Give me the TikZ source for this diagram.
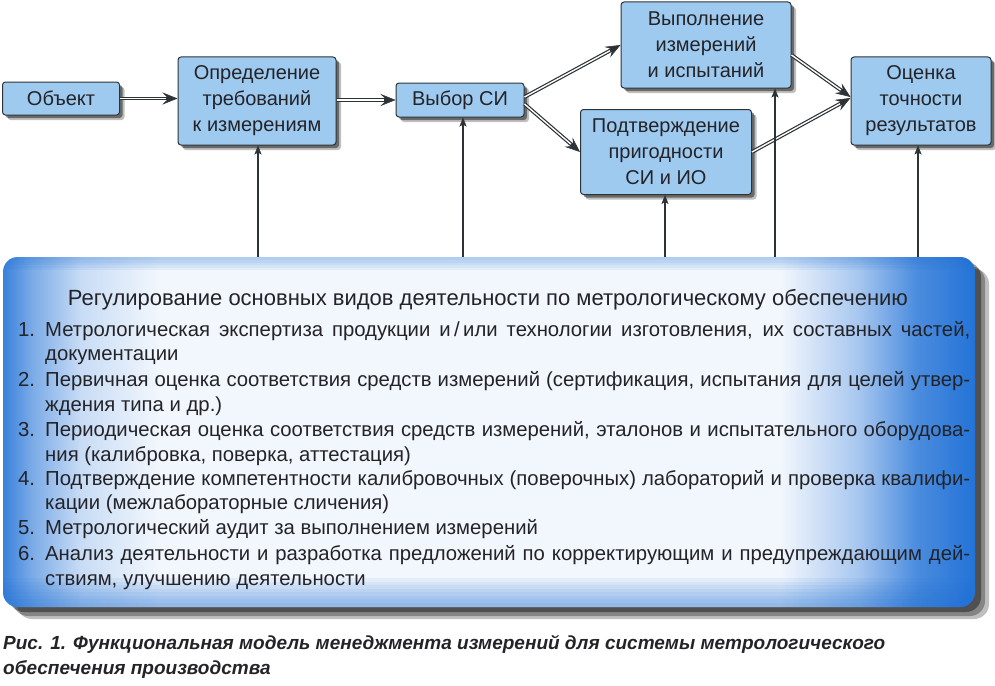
\documentclass[tikz,border=0pt]{standalone}
\usepackage{fontspec}
\setmainfont{Liberation Sans}
\usetikzlibrary{arrows.meta,shadows,calc}
\definecolor{boxblue}{RGB}{158,202,240}
\definecolor{edge}{RGB}{45,50,55}
\definecolor{ink}{RGB}{35,35,40}
\definecolor{deepblue}{RGB}{35,115,215}
\pgfdeclarehorizontalshading{bigshade}{100bp}{color(0bp)=(deepblue!90!white); color(25bp)=(deepblue!90!white); color(26.5bp)=(deepblue!60!white); color(29bp)=(deepblue!25!white); color(33bp)=(deepblue!6!white); color(65bp)=(deepblue!6!white); color(69bp)=(deepblue!40!white); color(72bp)=(deepblue!82!white); color(75bp)=(deepblue); color(100bp)=(deepblue)}
\newcommand\jline[1]{\hbox to 925pt{#1}}
\begin{document}
\begin{tikzpicture}[x=1pt,y=-1pt,
  box/.style={draw=edge, line width=1pt, fill=boxblue, rounded corners=3pt, align=center,
    inner sep=0pt, text=ink, font=\fontsize{20}{26}\selectfont,
    general shadow={shadow xshift=5pt, shadow yshift=-5pt, fill=black, opacity=0.25},
    general shadow={shadow xshift=3pt, shadow yshift=-3pt, fill=black, opacity=0.45}},
  bigbox/.style={rounded corners=15pt, shade, shading=bigshade, inner sep=0pt,
    general shadow={shadow xshift=14pt, shadow yshift=-12pt, fill=black, opacity=0.25},
    general shadow={shadow xshift=10pt, shadow yshift=-9pt, fill=black, opacity=0.3},
    general shadow={shadow xshift=6pt, shadow yshift=-5pt, fill=black, opacity=0.4}},
  dbl/.style={draw=edge, line width=3.8pt, -{Stealth[length=15pt,width=12pt,inset=6pt,line width=0.5pt]},
    postaction={draw=white, line width=1.4pt, -, shorten >=12pt}},
  varrow/.style={draw=edge, line width=1.2pt, -{Stealth[length=9pt,width=7pt,inset=2pt,line width=0.4pt]}},
  txt/.style={anchor=base west, inner sep=0pt, text=ink, font=\fontsize{20.3}{24}\selectfont},
  captxt/.style={anchor=base west, inner sep=0pt, text=ink, font=\bfseries\itshape\fontsize{19}{24}\selectfont},
  glow/.style={fill=deepblue, opacity=0.07}
]
\useasboundingbox (0,0) rectangle (995,685);
% big box
\node[bigbox, minimum width=972pt, minimum height=350pt] (big) at (489,432) {};
\begin{scope}
  \clip[rounded corners=15pt] (big.north west) rectangle (big.south east);
  \foreach \i in {0,...,7} \fill[glow] (3,{578+\i*3.5}) rectangle (975,607);
  \foreach \i in {0,...,4} \fill[glow] (3,257) rectangle (975,{260+\i*2.5});
\end{scope}
% boxes
\node[box, minimum width=117pt, minimum height=33pt] (obj) at (61,98.5) {Объект};
\node[box, minimum width=158pt, minimum height=88pt] (req) at (257,101) {Определение\\требований\\к измерениям};
\node[box, minimum width=128pt, minimum height=34pt] (vyb) at (460,100) {Выбор СИ};
\node[box, minimum width=170pt, minimum height=86pt] (vyp) at (706,45) {Выполнение\\измерений\\и испытаний};
\node[box, minimum width=171pt, minimum height=85pt] (podt) at (666,152) {Подтверждение\\пригодности\\СИ и ИО};
\node[box, minimum width=140pt, minimum height=88pt] (ots) at (921,101) {Оценка\\точности\\результатов};
% double arrows
\draw[dbl] (obj.east) -- (obj.east -| req.west);
\draw[dbl] (req.east |- vyb.west) -- (vyb.west);
\draw[dbl] ($(vyb.east)+(0,-3)$) -- (vyp.west);
\draw[dbl] ($(vyb.east)+(0,4)$) -- (podt.west);
\draw[dbl] ($(vyp.east)+(0,10)$) -- ($(ots.west)+(0,-4)$);
\draw[dbl] (podt.east) -- ($(ots.west)+(0,-3)$);
% vertical arrows
\coordinate (f1) at (258,257);
\coordinate (f2) at (463,257);
\coordinate (f3) at (665,257);
\coordinate (f4) at (775,257);
\coordinate (f5) at (918,257);
\draw[varrow] (f1) -- (f1 |- req.south);
\draw[varrow] (f2) -- (f2 |- vyb.south);
\draw[varrow] (f3) -- (f3 |- podt.south);
\draw[varrow] (f4) -- (f4 |- vyp.south);
\draw[varrow] (f5) -- (f5 |- ots.south);
% texts in big box
\node[txt, anchor=base, font=\fontsize{22}{26}\selectfont] (ttl) at (488,305) {Регулирование основных видов деятельности по метрологическому обеспечению};
\node[txt] (n1) at (18,336) {1.};
\node[txt] (l1a) at (45,336) {\jline{Метрологическая экспертиза продукции и\,/\,или технологии изготовления, их составных частей,}};
\node[txt] (l1b) at (45,360) {документации};
\node[txt] (n2) at (18,386) {2.};
\node[txt] (l2a) at (45,386) {\jline{Первичная оценка соответствия средств измерений (сертификация, испытания для целей утвер-}};
\node[txt] (l2b) at (45,411) {ждения типа и др.)};
\node[txt] (n3) at (18,436) {3.};
\node[txt] (l3a) at (45,436) {\jline{Периодическая оценка соответствия средств измерений, эталонов и испытательного оборудова-}};
\node[txt] (l3b) at (45,461) {ния (калибровка, поверка, аттестация)};
\node[txt] (n4) at (18,485) {4.};
\node[txt] (l4a) at (45,485) {\jline{Подтверждение компетентности калибровочных (поверочных) лабораторий и проверка квалифи-}};
\node[txt] (l4b) at (45,509) {кации (межлабораторные сличения)};
\node[txt] (n5) at (18,534) {5.};
\node[txt] (l5a) at (45,534) {Метрологический аудит за выполнением измерений};
\node[txt] (n6) at (18,560) {6.};
\node[txt] (l6a) at (45,560) {\jline{Анализ деятельности и разработка предложений по корректирующим и предупреждающим дей-}};
\node[txt] (l6b) at (45,585) {ствиям, улучшению деятельности};
% caption
\node[captxt] (c1) at (3,649) {Рис. 1. Функциональная модель менеджмента измерений для системы метрологического};
\node[captxt] (c2) at (3,674) {обеспечения производства};
\end{tikzpicture}
\end{document}
